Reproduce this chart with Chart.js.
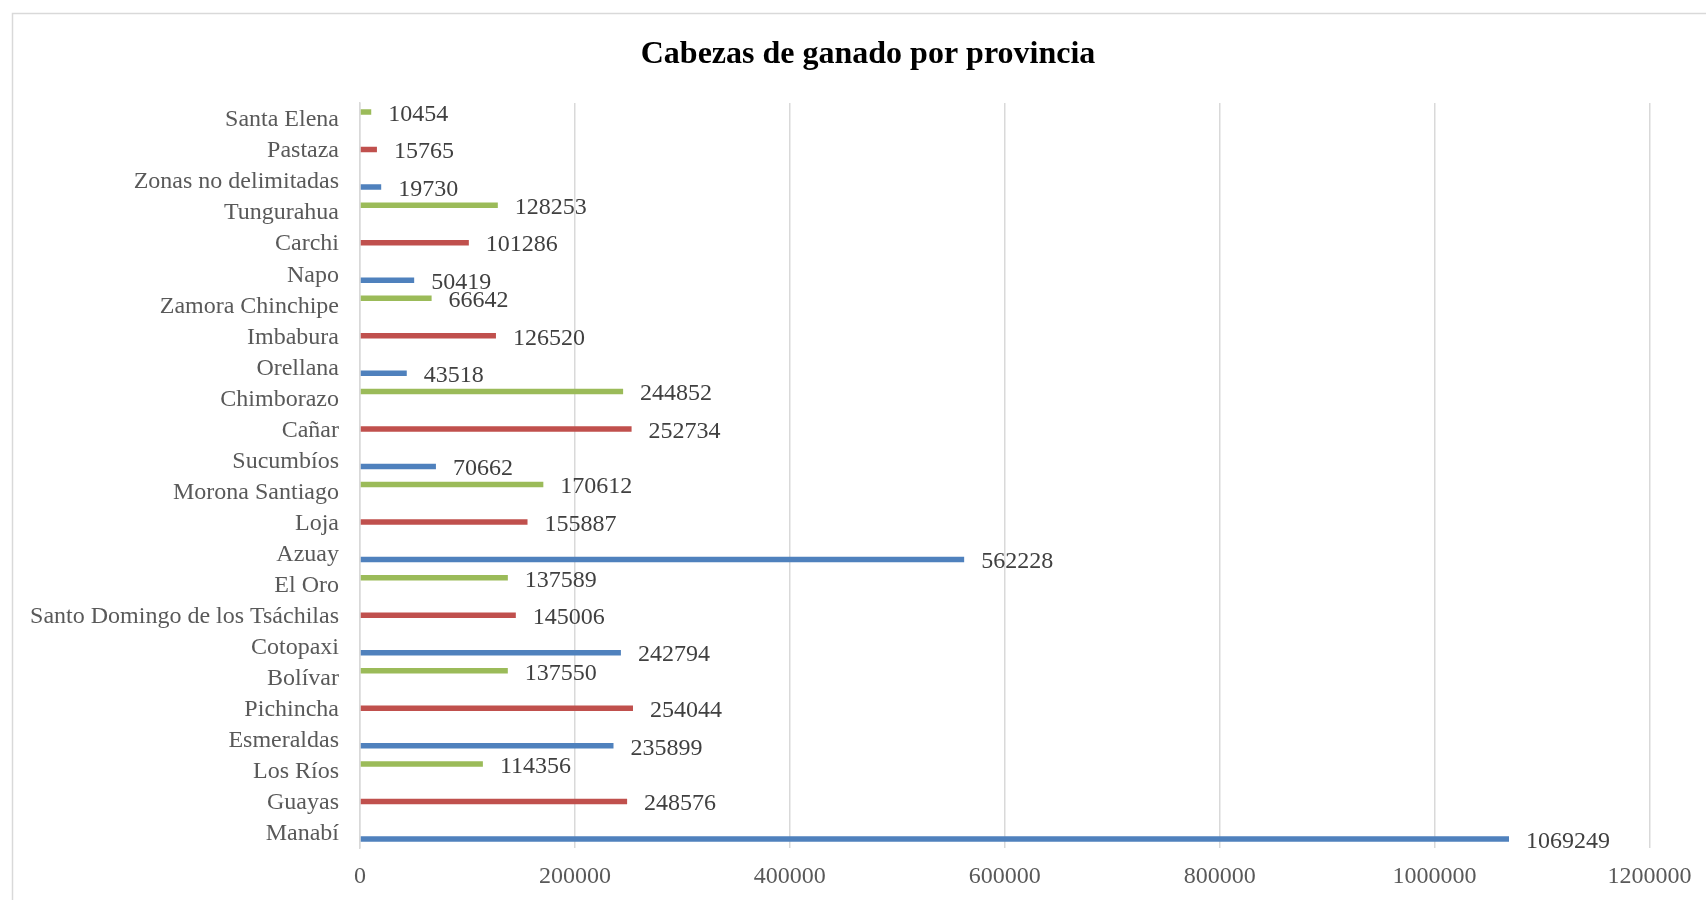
<!DOCTYPE html>
<html>
<head>
<meta charset="utf-8">
<script src="https://cdn.jsdelivr.net/npm/chart.js@4"></script>
<style>
  html, body { margin: 0; padding: 0; background: #fff; }
  #wrap { width: 1706px; height: 900px; position: relative; }
</style>
</head>
<body>
<div id="wrap"><canvas id="c"></canvas></div>
<script>
// Categories listed top to bottom as they appear in the chart
const provincias = [
  "Santa Elena", "Pastaza", "Zonas no delimitadas", "Tungurahua", "Carchi", "Napo",
  "Zamora Chinchipe", "Imbabura", "Orellana", "Chimborazo", "Cañar", "Sucumbíos",
  "Morona Santiago", "Loja", "Azuay", "El Oro", "Santo Domingo de los Tsáchilas", "Cotopaxi",
  "Bolívar", "Pichincha", "Esmeraldas", "Los Ríos", "Guayas", "Manabí"
];
// Green series (top slot in each category)
const serieVerde = [
  10454, null, null, 128253, null, null,
  66642, null, null, 244852, null, null,
  170612, null, null, 137589, null, null,
  137550, null, null, 114356, null, null
];
// Red series (middle slot)
const serieRoja = [
  null, 15765, null, null, 101286, null,
  null, 126520, null, null, 252734, null,
  null, 155887, null, null, 145006, null,
  null, 254044, null, null, 248576, null
];
// Blue series (bottom slot)
const serieAzul = [
  null, null, 19730, null, null, 50419,
  null, null, 43518, null, null, 70662,
  null, null, 562228, null, null, 242794,
  null, null, 235899, null, null, 1069249
];
const xMin = 0, xMax = 1200000, xStep = 200000;
const titulo = "Cabezas de ganado por provincia";

const SERIF = "'Liberation Serif', 'Times New Roman', serif";

const borderPlugin = {
  id: 'chartBorder',
  beforeDraw(chart) {
    const ctx = chart.ctx;
    ctx.save();
    ctx.strokeStyle = '#d9d9d9';
    ctx.lineWidth = 1.5;
    ctx.strokeRect(12.5, 13.5, chart.width + 100, chart.height + 100);
    ctx.restore();
  }
};

// Chart title, centred on the (partly cropped) chart frame
const titlePlugin = {
  id: 'frameTitle',
  afterDraw(chart) {
    const ctx = chart.ctx;
    ctx.save();
    ctx.font = "bold 32px " + SERIF;
    ctx.fillStyle = '#000';
    ctx.textAlign = 'center';
    ctx.textBaseline = 'alphabetic';
    ctx.fillText(titulo, 868, 63);
    ctx.restore();
  }
};

const valueLabels = {
  id: 'valueLabels',
  afterDatasetsDraw(chart) {
    const ctx = chart.ctx;
    ctx.save();
    ctx.font = "24px " + SERIF;
    ctx.fillStyle = '#404040';
    ctx.textAlign = 'left';
    ctx.textBaseline = 'middle';
    chart.data.datasets.forEach((ds, di) => {
      const meta = chart.getDatasetMeta(di);
      meta.data.forEach((el, i) => {
        const v = ds.data[i];
        if (v === null || v === undefined) return;
        ctx.fillText(String(v), el.x + 17, el.y + 2.5);
      });
    });
    ctx.restore();
  }
};

new Chart(document.getElementById('c'), {
  type: 'bar',
  data: {
    labels: provincias,
    datasets: [
      { label: 'Serie 3', data: serieVerde, backgroundColor: '#9BBB59' },
      { label: 'Serie 2', data: serieRoja, backgroundColor: '#C0504D' },
      { label: 'Serie 1', data: serieAzul, backgroundColor: '#4F81BD' }
    ]
  },
  options: {
    indexAxis: 'y',
    responsive: true,
    maintainAspectRatio: false,
    animation: false,
    categoryPercentage: 0.62,
    barPercentage: 0.86,
    layout: { padding: { left: 0, right: 53, top: 103, bottom: 0 } },
    plugins: {
      legend: { display: false },
      tooltip: { enabled: false },
      title: { display: false }
    },
    scales: {
      x: {
        min: xMin, max: xMax,
        ticks: {
          stepSize: xStep,
          color: '#595959',
          font: { family: SERIF, size: 24 },
          padding: 14.5,
          maxRotation: 0,
          callback: (v) => String(v)
        },
        grid: { color: '#d9d9d9', lineWidth: 1.5, drawTicks: false },
        border: { display: false },
        afterFit(scale) { scale.height = 52; }
      },
      y: {
        ticks: {
          color: '#595959',
          font: { family: SERIF, size: 24 },
          padding: 21,
          labelOffset: 1.5,
          autoSkip: false
        },
        grid: { display: false, drawTicks: false },
        border: { display: true, color: '#d9d9d9', width: 1.5 },
        afterFit(scale) { scale.width = 360; }
      }
    }
  },
  plugins: [borderPlugin, titlePlugin, valueLabels]
});
</script>
</body>
</html>
